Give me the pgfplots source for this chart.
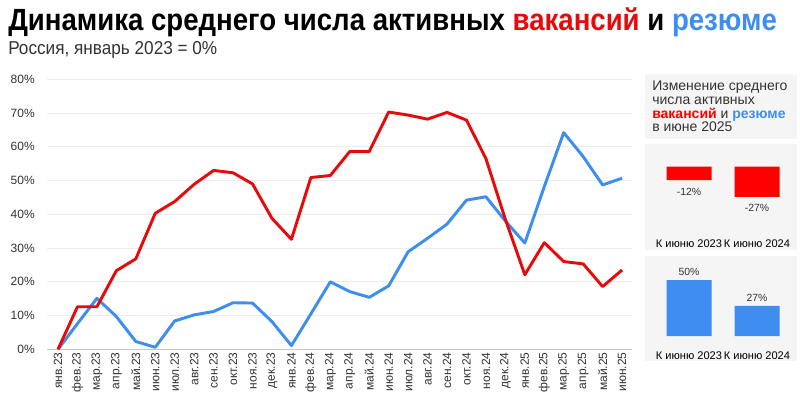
\documentclass[border=0pt]{standalone}
\usepackage{pgfplots}
\pgfplotsset{compat=1.18}
\usepackage{fontspec}
\setmainfont{Liberation Sans}
\newfontfamily\titlefont{Liberation Sans}[FakeStretch=0.9]
\newfontfamily\subfont{Liberation Sans}[FakeStretch=0.92]
\definecolor{vred}{HTML}{E80A0A}
\definecolor{bred}{HTML}{FF0000}
\definecolor{vblue}{HTML}{3D8EF0}
\definecolor{txt}{HTML}{333333}
\definecolor{boxbg}{HTML}{F5F5F5}
\pgfplotsset{/pgf/number format/assume math mode=true}
\def\px{0.75pt}
\begin{document}
\begin{tikzpicture}
\useasboundingbox (0,0) rectangle ({800*\px},{-399*\px});
\fill[white] (0,0) rectangle ({800*\px},{-399*\px});
% title
\node[anchor=base west, inner sep=0, font=\titlefont\bfseries\fontsize{23}{27}\selectfont, text=black] at ({8*\px},{-31*\px}) {Динамика среднего числа активных \textcolor{vred}{вакансий} и \textcolor{vblue}{резюме}};
\node[anchor=base west, inner sep=0, font=\subfont\fontsize{14}{16}\selectfont, text=txt] at ({8*\px},{-55*\px}) {Россия, январь 2023 = 0\%};
% main chart
\begin{axis}[
  at={({47*\px},{-349.3*\px})}, anchor=south west,
  scale only axis, width={585*\px}, height={270*\px},
  xmin=-0.566, xmax=29.51, ymin=0, ymax=80,
  clip=false,
  axis x line*=bottom, axis y line*=left,
  axis line style={-},
  x axis line style={draw=black!22},
  y axis line style={draw=none},
  tick style={draw=none},
  ymajorgrids, grid style={draw=black!7, line width=0.6pt},
  ytick={0,10,...,80},
  yticklabel={\pgfmathprintnumber[assume math mode=true]{\tick}\%},
  yticklabel style={font=\fontsize{9}{10}\selectfont, text=txt, anchor=east, inner sep=0pt, xshift={-12*\px}},
  xtick={0,...,29},
  xticklabels={янв.23,фев.23,мар.23,апр.23,май.23,июн.23,июл.23,авг.23,сен.23,окт.23,ноя.23,дек.23,янв.24,фев.24,мар.24,апр.24,май.24,июн.24,июл.24,авг.24,сен.24,окт.24,ноя.24,дек.24,янв.25,фев.25,мар.25,апр.25,май.25,июн.25},
  xticklabel style={font=\fontsize{9}{10}\selectfont, text=txt, rotate=90, anchor=east, inner sep=0pt, xshift={-3*\px}},
]
\addplot[vblue, line width=2.2pt, line join=round] coordinates {
(0,0) (1,7.6) (2,15.1) (3,9.7) (4,2.3) (5,0.6) (6,8.4) (7,10.2) (8,11.2) (9,13.8) (10,13.7) (11,8.2) (12,1.1) (13,10.5) (14,20.0) (15,17.1) (16,15.4) (17,18.8) (18,28.9) (19,32.9) (20,37.1) (21,44.2) (22,45.2) (23,38.0) (24,31.5) (25,48.2) (26,64.2) (27,57.1) (28,48.7) (29,50.7)};
\addplot[vred, line width=2.2pt, line join=round] coordinates {
(0,0) (1,12.6) (2,12.6) (3,23.3) (4,26.8) (5,40.3) (6,43.8) (7,48.9) (8,53.0) (9,52.3) (10,49.0) (11,38.8) (12,32.6) (13,50.9) (14,51.5) (15,58.6) (16,58.6) (17,70.3) (18,69.4) (19,68.2) (20,70.2) (21,67.9) (22,56.5) (23,38.5) (24,22.1) (25,31.6) (26,26.0) (27,25.3) (28,18.6) (29,23.5)};
\end{axis}
% right panel backgrounds
\fill[boxbg] ({645*\px},{-74*\px}) rectangle ({797*\px},{-139*\px});
\fill[boxbg] ({645*\px},{-144*\px}) rectangle ({797*\px},{-250*\px});
\fill[boxbg] ({645*\px},{-256*\px}) rectangle ({797*\px},{-361*\px});
\begin{scope}[every node/.style={anchor=base west, inner sep=0, font=\fontsize{10.5}{12}\selectfont, text=txt}]
\node at ({652*\px},{-91*\px}) {Изменение среднего};
\node at ({652*\px},{-104.5*\px}) {числа активных};
\node at ({652*\px},{-118.5*\px}) {\textcolor{bred}{\bfseries вакансий} и \textcolor{vblue}{\bfseries резюме}};
\node at ({652*\px},{-132*\px}) {в июне 2025};
\end{scope}
% red bars
\begin{axis}[
  at={({655*\px},{-166.7*\px})}, anchor=north west,
  scale only axis, width={136*\px}, height={62.4*\px},
  xmin=-0.5, xmax=1.5, ymin=-56, ymax=0,
  clip=false, ybar, bar width={45*\px},
  axis line style={draw=none}, tick style={draw=none},
  ytick=\empty, xtick={0,1},
  xticklabels={К июню 2023,К июню 2024},
  xticklabel style={font=\fontsize{8.3}{10}\selectfont, text=black},
  nodes near coords={\pgfmathprintnumber[assume math mode=true]{\pgfplotspointmeta}\%},
  every node near coord/.append style={font=\fontsize{7.8}{9}\selectfont, text=txt, yshift={-3*\px}},
]
\addplot[draw=none, fill=bred] coordinates {(0,-12) (1,-27)};
\end{axis}
% blue bars
\begin{axis}[
  at={({655*\px},{-341.6*\px})}, anchor=south west,
  scale only axis, width={136*\px}, height={67*\px},
  xmin=-0.5, xmax=1.5, ymin=-5, ymax=55,
  clip=false, ybar, bar width={45*\px},
  axis line style={draw=none}, tick style={draw=none},
  ytick=\empty, xtick={0,1},
  xticklabels={К июню 2023,К июню 2024},
  xticklabel style={font=\fontsize{8.3}{10}\selectfont, text=black},
  nodes near coords={\pgfmathprintnumber[assume math mode=true]{\pgfplotspointmeta}\%},
  every node near coord/.append style={font=\fontsize{7.8}{9}\selectfont, text=txt},
]
\addplot[draw=none, fill=vblue] coordinates {(0,50) (1,27)};
\end{axis}
\end{tikzpicture}
\end{document}
